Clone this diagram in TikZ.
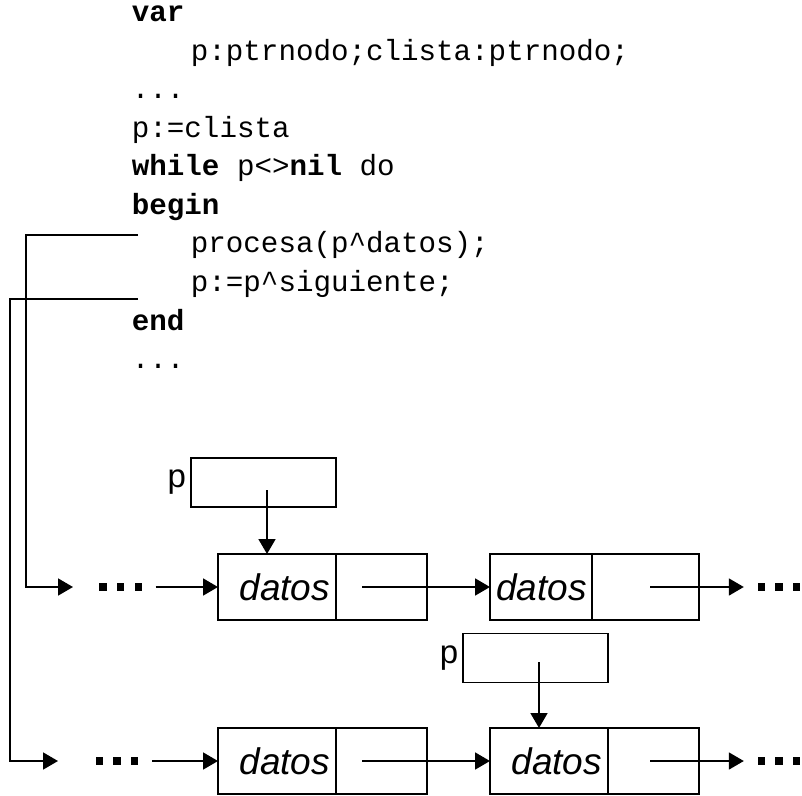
\documentclass[tikz,border=0pt]{standalone}
\usepackage{fontspec}
\setmainfont{Liberation Sans}
\newfontfamily\codefont{Liberation Mono}
\usetikzlibrary{arrows.meta,positioning}

\tikzset{
	cod/.style={anchor=base west, inner sep=0pt, font=\codefont\fontsize{14.6}{16}\selectfont},
	cell/.style={draw, minimum height=33pt, inner xsep=3pt, inner ysep=0pt, outer sep=0pt},
	dato/.style={cell, text width=#1, align=right, font=\itshape\fontsize{18.5}{20}\selectfont},
	ptrbox/.style={cell, minimum width=72.5pt, minimum height=24.5pt},
	plabel/.style={anchor=east, inner sep=2pt, font=\fontsize{16.5}{18}\selectfont},
	puntos/.style={inner sep=0pt, outer sep=7pt},
	flecha/.style={-{Triangle[length=7.5pt,width=8.5pt]}},
}
\newcommand{\tresp}{\rule{3.6pt}{3.6pt}\hspace{5.2pt}\rule{3.6pt}{3.6pt}\hspace{5.2pt}\rule{3.6pt}{3.6pt}}

\begin{document}
\begin{tikzpicture}[x=0.5pt, y=-0.5pt, line width=0.9pt]
			\useasboundingbox (0,0) rectangle (802,796);
			% codigo
			\node[cod] (lvar) at (131, 22) {\textbf{var}};
			\node[cod] (ldecl) at (190, 60.5) {p:ptrnodo;clista:ptrnodo;};
			\node[cod] (lpts1) at (131, 99) {...};
			\node[cod] (lasig) at (131, 137.5) {p:=clista};
			\node[cod] (lwhile) at (131, 176) {\textbf{while} p<>\textbf{nil} do};
			\node[cod] (lbegin) at (131, 214.5) {\textbf{begin}};
			\node[cod] (lproc) at (190, 253) {procesa(p\textasciicircum{}datos);};
			\node[cod] (lsig) at (190, 291.5) {p:=p\textasciicircum{}siguiente;};
			\node[cod] (lend) at (131, 330) {\textbf{end}};
			\node[cod] (lpts2) at (131, 368.5) {...};

			% primera lista
			\node[ptrbox] (pbox1) at (263.5, 482.5) {};
			\node[plabel] (lp1) at (pbox1.west) {p};
			\node[puntos] (pt1) at (120.5, 587) {\tresp};
			\node[dato=53pt, anchor=west] (d1) at (218, 587) {datos};
			\node[cell, minimum width=45.5pt, anchor=west] (n1) at (d1.east) {};
			\node[dato=45pt, anchor=west] (d2) at (490, 587) {datos};
			\node[cell, minimum width=53.5pt, anchor=west] (n2) at (d2.east) {};
			\node[puntos] (fin1) at (779, 587) {\tresp};

			% segunda lista
			\node[ptrbox] (pbox2) at (535.5, 658) {};
			\node[plabel] (lp2) at (pbox2.west) {p};
			\node[puntos] (pt2) at (117, 761) {\tresp};
			\node[dato=53pt, anchor=west] (d3) at (218, 761) {datos};
			\node[cell, minimum width=45.5pt, anchor=west] (n3) at (d3.east) {};
			\node[dato=53pt, anchor=west] (d4) at (490, 761) {datos};
			\node[cell, minimum width=45.5pt, anchor=west] (n4) at (d4.east) {};
			\node[puntos] (fin2) at (779, 761) {\tresp};

			\coordinate (c1) at (138, 235);
			\coordinate (c2) at (138, 299);
			\coordinate (e1) at (73, 587);
			\coordinate (e2) at (58, 761);
			\coordinate (q1) at (267, 490);
			\coordinate (q2) at (539, 662);
			\coordinate (s1) at (362, 587);
			\coordinate (s2) at (650, 587);
			\coordinate (s3) at (362, 761);
			\coordinate (s4) at (650, 761);

			\draw[flecha] (c1) -- ++(-112, 0) |- (e1);
			\draw[flecha] (c2) -- ++(-128, 0) |- (e2);
			\draw[flecha] (q1) -- (q1 |- d1.north);
			\draw[flecha] (q2) -- (q2 |- d4.north);
			\draw[flecha] (pt1.east) -- (d1.west);
			\draw[flecha] (pt2.east) -- (d3.west);
			\draw[flecha] (s1) -- (d2.west);
			\draw[flecha] (s2) -- (fin1.west);
			\draw[flecha] (s3) -- (d4.west);
			\draw[flecha] (s4) -- (fin2.west);
\end{tikzpicture}
\end{document}
